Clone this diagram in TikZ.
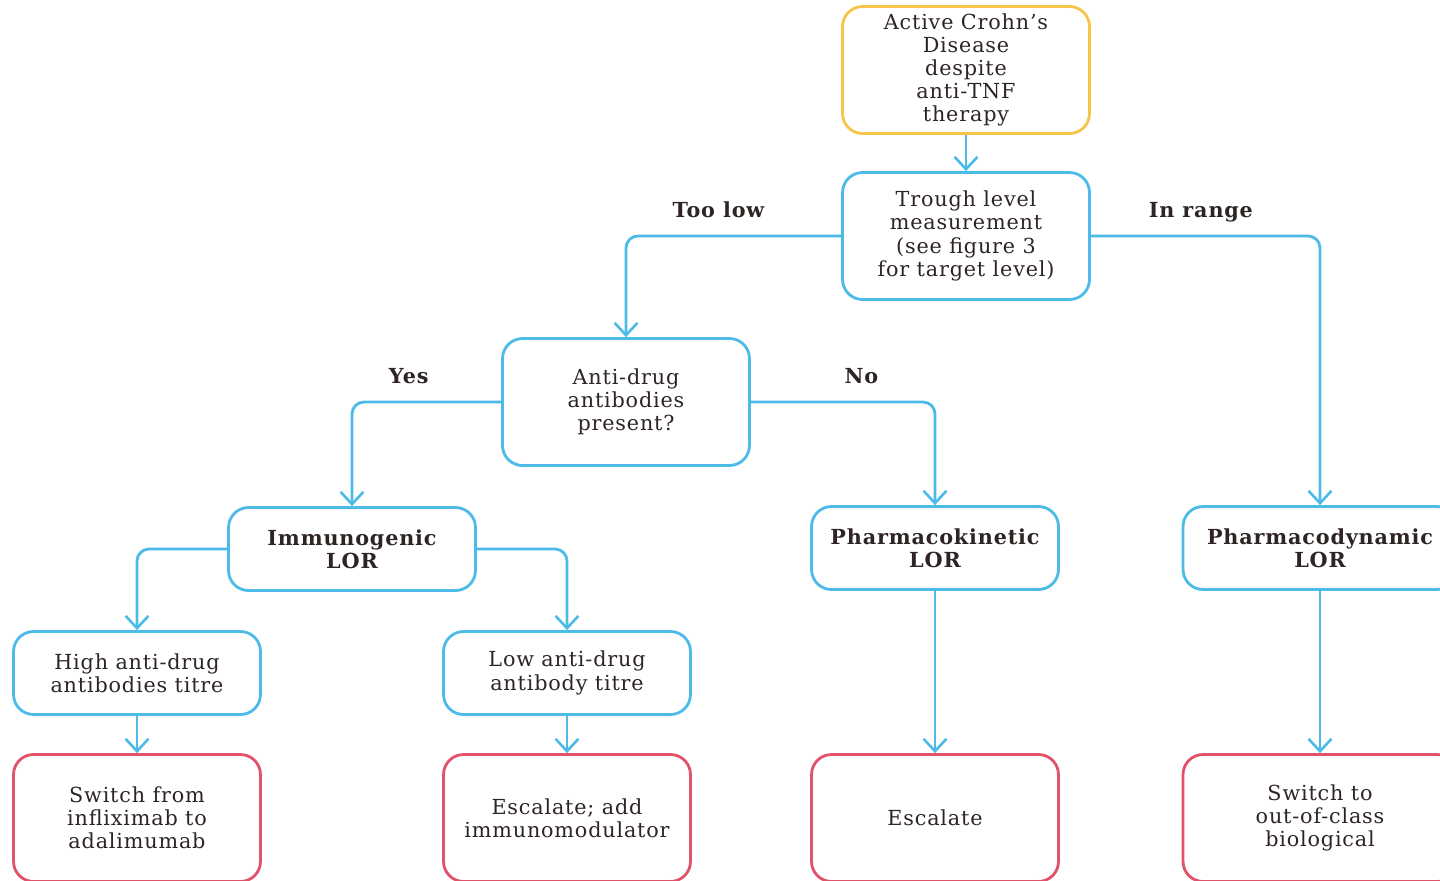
\documentclass[tikz,border=0pt]{standalone}
\usepackage{fontspec}
\setmainfont{DejaVu Serif}[LetterSpace=4]
\usepackage{xcolor}
\usetikzlibrary{arrows.meta, positioning, calc}

\definecolor{flowblue}{HTML}{4DBBE8}
\definecolor{flowyellow}{HTML}{F7C44A}
\definecolor{flowred}{HTML}{E0536A}
\definecolor{flowtext}{HTML}{2E2424}

\begin{document}
\begin{tikzpicture}[
    x=0.02cm, y=-0.02cm,
    >={Straight Barb[length=7pt, width=13pt, line width=1.5pt]},
    step box/.style={
        rectangle,
        draw=flowblue,
        line width=1.6pt,
        rounded corners=0.4cm,
        minimum width=4.94cm,
        minimum height=1.66cm,
        align=center,
        text=flowtext,
        font=\fontsize{11.8}{13.2}\selectfont
    },
    tall box/.style={
        step box,
        minimum height=2.54cm
    },
    start box/.style={
        tall box,
        draw=flowyellow
    },
    action box/.style={
        tall box,
        draw=flowred
    },
    link/.style={
        ->, draw=flowblue, line width=1.6pt, rounded corners=0.24cm
    },
    branch/.style={
        font=\bfseries\fontsize{11.8}{13.2}\selectfont, text=flowtext,
        text height=1.6ex, text depth=0.4ex
    }
]
    \useasboundingbox (0,0) rectangle (1440,880);

    % =========================================================
    % DECISION TREE FOR LOSS OF RESPONSE
    % =========================================================
    \node [start box] (disease) at (966,70) {Active Crohn's\\ Disease\\ despite\\ anti-TNF\\ therapy};

    \node [tall box] (trough) at (966,236) {Trough level\\ measurement\\ (see figure 3\\ for target level)};

    \node [tall box] (antibody) at (626,402) {Anti-drug\\ antibodies\\ present?};

    \node [step box, font=\bfseries\fontsize{11.8}{13.2}\selectfont] (immuno) at (352,549) {Immunogenic\\ LOR};
    \node [step box, font=\bfseries\fontsize{11.8}{13.2}\selectfont] (pkin) at (935,548) {Pharmacokinetic\\ LOR};
    \node [step box, minimum width=5.48cm, font=\bfseries\fontsize{11.8}{13.2}\selectfont] (pdyn) at (1320,548) {Pharmacodynamic\\ LOR};

    \node [step box] (hightitre) at (137,673) {High anti-drug\\ antibodies titre};
    \node [step box] (lowtitre) at (567,673) {Low anti-drug\\ antibody titre};

    \node [action box] (switchdrug) at (137,818) {Switch from\\ infliximab to\\ adalimumab};
    \node [action box] (addimmuno) at (567,818) {Escalate; add\\ immunomodulator};
    \node [action box] (escalate) at (935,818) {Escalate};
    \node [action box, minimum width=5.48cm] (switchclass) at (1320,818) {Switch to\\ out-of-class\\ biological};

    % =========================================================
    % CONNECTIONS
    % =========================================================
    \draw [link] (disease.south) -- (trough.north);
    \draw [link] (trough.west) -| node[branch, pos=0.285, above=0.15cm] {Too low} (antibody.north);
    \draw [link] (trough.east) -| node[branch, pos=0.24, above=0.15cm] {In range} (pdyn.north);
    \draw [link] (antibody.west) -| node[branch, pos=0.31, above=0.15cm] {Yes} (immuno.north);
    \draw [link] (antibody.east) -| node[branch, pos=0.3, above=0.15cm] {No} (pkin.north);
    \draw [link] (immuno.west) -| (hightitre.north);
    \draw [link] (immuno.east) -| (lowtitre.north);

    \draw [link] (hightitre.south) -- (switchdrug.north);
    \draw [link] (lowtitre.south) -- (addimmuno.north);
    \draw [link] (pkin.south) -- (escalate.north);
    \draw [link] (pdyn.south) -- (switchclass.north);

\end{tikzpicture}
\end{document}
